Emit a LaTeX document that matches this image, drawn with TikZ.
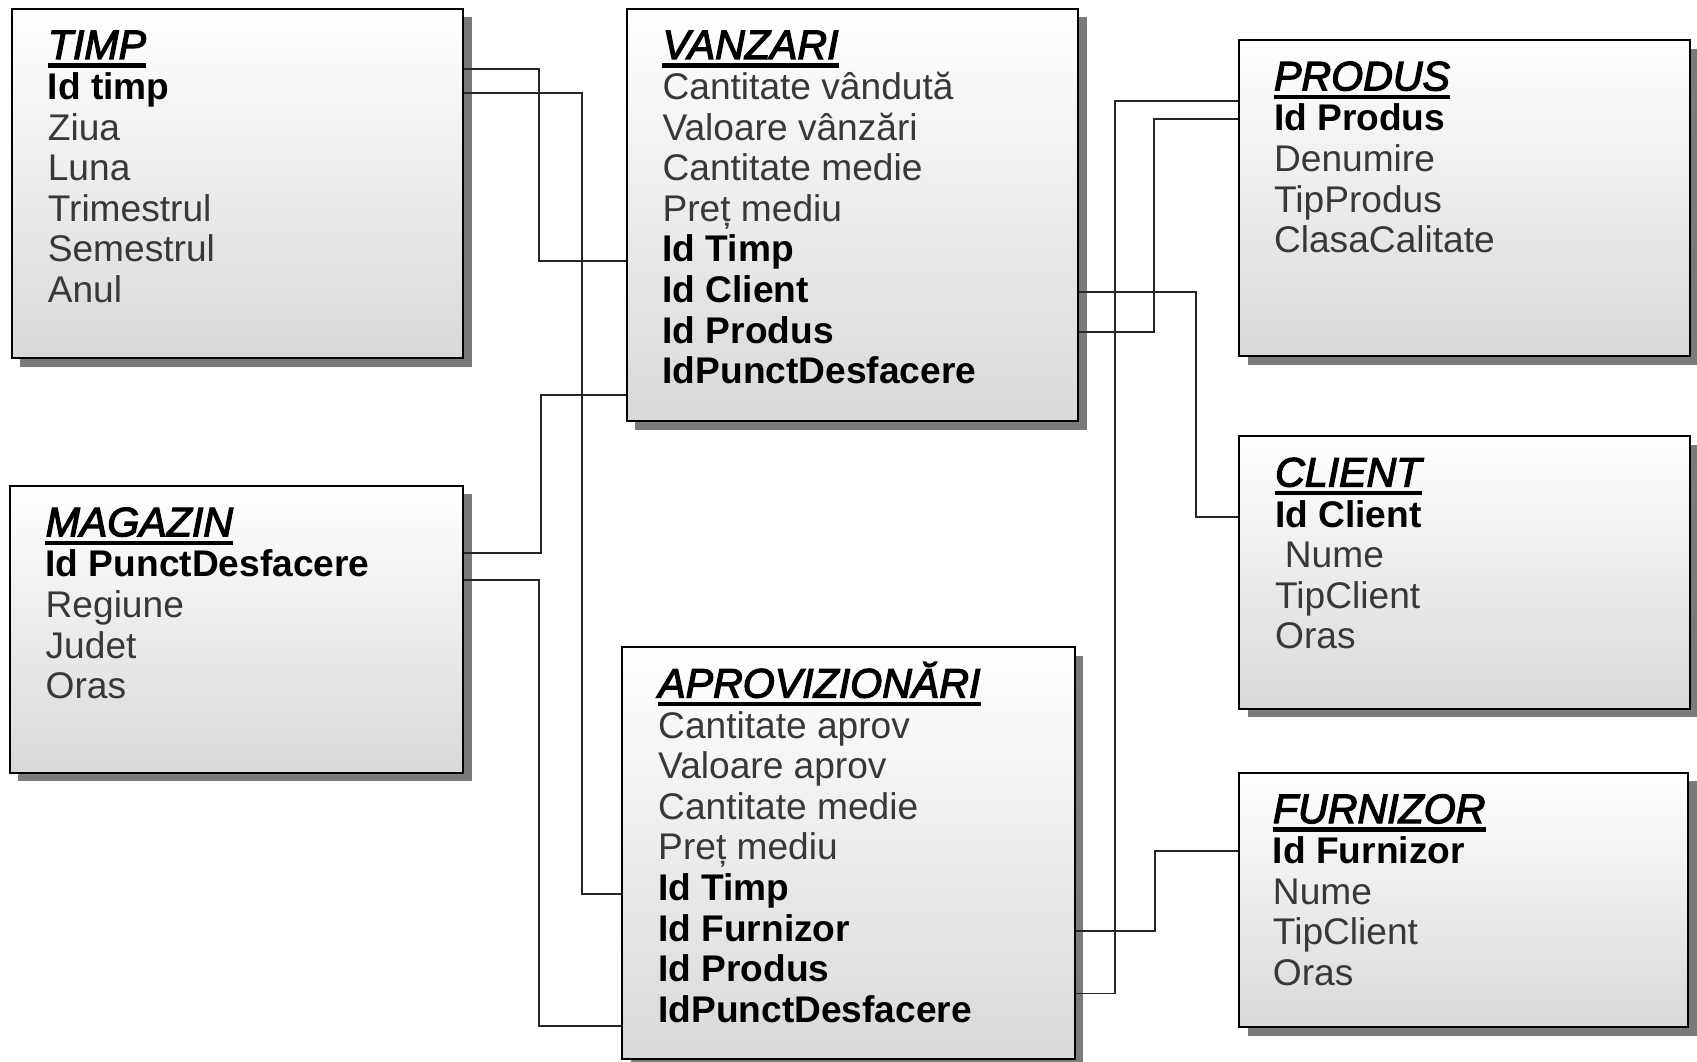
\documentclass[tikz,border=0pt]{standalone}
\usepackage{fontspec}
\setmainfont{Liberation Sans}
\newfontfamily\ttlfont{Liberation Sans Italic}[FakeBold=3]
\usetikzlibrary{shadows}
\tikzset{
  entity/.style={draw=black, line width=1.8pt, anchor=north west, inner sep=0pt,
    top color=white, bottom color=black!15,
    general shadow={fill=black!52, shadow xshift=8pt, shadow yshift=-8pt}},
  ttl/.style={anchor=base west, inner sep=0pt, text=black, yshift=-2.5pt,
    font=\fontsize{38pt}{40pt}\selectfont\ttlfont},
  fld/.style={anchor=base west, inner sep=0pt, text=black!78, yshift=-2.5pt,
    font=\fontsize{34.3pt}{37.5pt}\selectfont},
  keyf/.style={anchor=base west, inner sep=0pt, text=black, yshift=-2.5pt,
    font=\fontsize{34.3pt}{37.5pt}\selectfont\bfseries},
  ul/.style={line width=4pt, black},
  conn/.style={line width=1.6pt, draw=black!85}
}
\begin{document}
\begin{tikzpicture}[x=1pt,y=-1pt]
\useasboundingbox[fill=white] (0,0) rectangle (1568,981);

% boxes
\node[entity, minimum width=417pt, minimum height=323pt] (timp) at (10,7) {};
\node[entity, minimum width=417pt, minimum height=381pt] (vanzari) at (578,7) {};
\node[entity, minimum width=417pt, minimum height=292pt] (produs) at (1144,36) {};
\node[entity, minimum width=419pt, minimum height=265pt] (magazin) at (8,448) {};
\node[entity, minimum width=417pt, minimum height=252pt] (client) at (1144,402) {};
\node[entity, minimum width=418pt, minimum height=381pt] (aprov) at (574,597) {};
\node[entity, minimum width=415pt, minimum height=235pt] (furnizor) at (1144,713) {};

% TIMP
\node[ttl] (tT) at (44,52) {TIMP};
\node[keyf] (t1) at (44,89.5) {Id timp};
\node[fld] (t2) at (44,127) {Ziua};
\node[fld] (t3) at (44,164.5) {Luna};
\node[fld] (t4) at (44,202) {Trimestrul};
\node[fld] (t5) at (44,239.5) {Semestrul};
\node[fld] (t6) at (44,277) {Anul};

% VANZARI
\node[ttl] (vT) at (612,52) {VANZARI};
\node[fld] (v1) at (612,89.5) {Cantitate vândută};
\node[fld] (v2) at (612,127) {Valoare vânzări};
\node[fld] (v3) at (612,164.5) {Cantitate medie};
\node[fld] (v4) at (612,202) {Preț mediu};
\node[keyf] (v5) at (612,239.5) {Id Timp};
\node[keyf] (v6) at (612,277) {Id Client};
\node[keyf] (v7) at (612,314.5) {Id Produs};
\node[keyf] (v8) at (612,352) {IdPunctDesfacere};

% PRODUS
\node[ttl] (pT) at (1177,81) {PRODUS};
\node[keyf] (p1) at (1177,118.5) {Id Produs};
\node[fld] (p2) at (1177,156) {Denumire};
\node[fld] (p3) at (1177,193.5) {TipProdus};
\node[fld] (p4) at (1177,231) {ClasaCalitate};

% MAGAZIN
\node[ttl] (mT) at (42,493) {MAGAZIN};
\node[keyf] (m1) at (42,530.5) {Id PunctDesfacere};
\node[fld] (m2) at (42,568) {Regiune};
\node[fld] (m3) at (42,605.5) {Judet};
\node[fld] (m4) at (42,643) {Oras};

% CLIENT
\node[ttl] (cT) at (1178,447) {CLIENT};
\node[keyf] (c1) at (1178,484.5) {Id Client};
\node[fld] (c2) at (1187,522) {Nume};
\node[fld] (c3) at (1178,559.5) {TipClient};
\node[fld] (c4) at (1178,597) {Oras};

% APROVIZIONARI
\node[ttl] (aT) at (608,642) {APROVIZIONĂRI};
\node[fld] (a1) at (608,679.5) {Cantitate aprov};
\node[fld] (a2) at (608,717) {Valoare aprov};
\node[fld] (a3) at (608,754.5) {Cantitate medie};
\node[fld] (a4) at (608,792) {Preț mediu};
\node[keyf] (a5) at (608,829.5) {Id Timp};
\node[keyf] (a6) at (608,867) {Id Furnizor};
\node[keyf] (a7) at (608,904.5) {Id Produs};
\node[keyf] (a8) at (608,942) {IdPunctDesfacere};

% FURNIZOR
\node[ttl] (fT) at (1176,758) {FURNIZOR};
\node[keyf] (f1) at (1176,795.5) {Id Furnizor};
\node[fld] (f2) at (1176,833) {Nume};
\node[fld] (f3) at (1176,870.5) {TipClient};
\node[fld] (f4) at (1176,908) {Oras};

% title underlines
\foreach \t in {tT,vT,pT,mT,cT,aT,fT}{
  \draw[ul] ([yshift=-6pt]\t.base west) -- ([yshift=-6pt]\t.base east);
}

% connectors
\draw[conn] (timp.east |- 0,64) -| (498,241) -- (vanzari.west |- 0,241);
\draw[conn] (timp.east |- 0,86) -| (538,826) -- (aprov.west |- 0,826);
\draw[conn] (vanzari.west |- 0,365) -| (500,511) -- (magazin.east |- 0,511);
\draw[conn] (magazin.east |- 0,536) -| (498,948) -- (aprov.west |- 0,948);
\draw[conn] (vanzari.east |- 0,270) -| (1105,478) -- (client.west |- 0,478);
\draw[conn] (vanzari.east |- 0,307) -| (1066,110) -- (produs.west |- 0,110);
\draw[conn] (produs.west |- 0,93) -| (1030,918) -- (aprov.east |- 0,918);
\draw[conn] (aprov.east |- 0,860) -| (1067,786) -- (furnizor.west |- 0,786);
\end{tikzpicture}
\end{document}
